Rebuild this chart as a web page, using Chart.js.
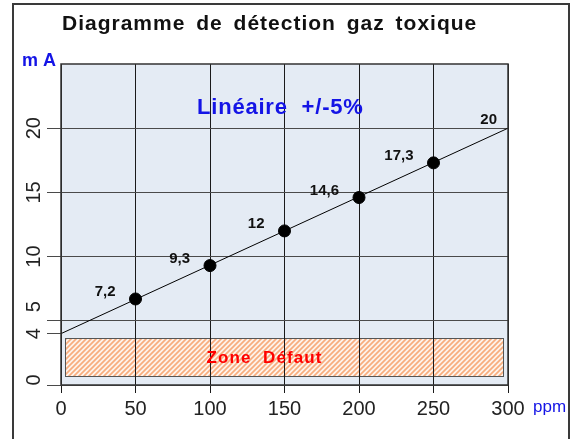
<!DOCTYPE html>
<html><head><meta charset="utf-8">
<script src="https://cdn.jsdelivr.net/npm/chart.js@4"></script>
<style>
html,body{margin:0;padding:0;background:#fff;}
#wrap{position:relative;width:573px;height:439px;overflow:hidden;}
#frame{position:absolute;left:12px;top:3px;width:558px;height:460px;border:2px solid #3a3a3a;box-sizing:border-box;}
canvas{position:absolute;left:0;top:0;}
</style></head><body>
<div id="wrap"><div id="frame"></div><canvas id="c" width="573" height="439"></canvas></div>
<script>
// ---- data ----
const ppmValues   = [50, 100, 150, 200, 250];
const mAValues    = [6.7, 9.3, 12, 14.6, 17.3];
const pointLabels = ['7,2', '9,3', '12', '14,6', '17,3'];
const lineX       = [0, 300];
const lineY       = [4, 20];
const lineLabels  = ['', '20'];
const xTickValues = [0, 50, 100, 150, 200, 250, 300];
const yTickValues = [0, 4, 5, 10, 15, 20];
const zoneX       = [3, 297];
const zoneY       = [0.7, 3.65];
const titleText   = 'Diagramme de détection gaz toxique';
const noteText    = 'Linéaire  +/-5%';
const zoneText    = 'Zone  Défaut';
const yUnit       = 'm A';
const xUnit       = 'ppm';

const FONT = '"Liberation Sans", Arial, sans-serif';
const BLUE = '#1414e6';

function hatchPattern(ctx){
  const c = document.createElement('canvas');
  c.width = 5; c.height = 5;
  const g = c.getContext('2d');
  g.fillStyle = '#fdf3ec'; g.fillRect(0,0,5,5);
  g.strokeStyle = '#f7ad7e'; g.lineWidth = 1.7;
  g.beginPath();
  g.moveTo(-1,6); g.lineTo(6,-1);
  g.moveTo(-1,1); g.lineTo(1,-1);
  g.moveTo(4,6); g.lineTo(6,4);
  g.stroke();
  return ctx.createPattern(c,'repeat');
}

const decor = {
  id:'decor',
  beforeDraw(chart){
    const {ctx, chartArea:a, scales:{x,y}} = chart;
    ctx.save();
    ctx.fillStyle = '#e4ebf4';
    ctx.fillRect(a.left, a.top, a.right-a.left, a.bottom-a.top);
    // zone défaut
    const zx0 = x.getPixelForValue(zoneX[0]), zx1 = x.getPixelForValue(zoneX[1]);
    const zy0 = y.getPixelForValue(zoneY[1]), zy1 = y.getPixelForValue(zoneY[0]);
    ctx.fillStyle = hatchPattern(ctx);
    ctx.fillRect(zx0, zy0, zx1-zx0, zy1-zy0);
    ctx.strokeStyle = '#555'; ctx.lineWidth = 1;
    ctx.strokeRect(Math.round(zx0)+0.5, Math.round(zy0)+0.5, Math.round(zx1-zx0), Math.round(zy1-zy0));
    ctx.restore();
  },
  afterDatasetsDraw(chart){
    const {ctx, chartArea:a, scales:{x,y}} = chart;
    ctx.save();
    // plot frame
    ctx.strokeStyle = '#333'; ctx.lineWidth = 1.5;
    ctx.strokeRect(a.left, a.top, a.right-a.left, a.bottom-a.top);
    // zone text
    ctx.fillStyle = '#ff0000';
    ctx.font = 'bold 17px ' + FONT;
    ctx.letterSpacing = '1.1px';
    ctx.textAlign = 'center'; ctx.textBaseline = 'middle';
    ctx.fillText(zoneText, (x.getPixelForValue(zoneX[0])+x.getPixelForValue(zoneX[1]))/2 - 20, y.getPixelForValue((zoneY[0]+zoneY[1])/2)+1);
    // point labels
    ctx.fillStyle = '#111';
    ctx.font = 'bold 15px ' + FONT;
    ctx.letterSpacing = '0px';
    ctx.textAlign = 'right';
    chart.getDatasetMeta(1).data.forEach((el,i)=>{
      ctx.fillText(pointLabels[i], el.x - 20, el.y - 7);
    });
    chart.getDatasetMeta(0).data.forEach((el,i)=>{
      if (lineLabels[i]) ctx.fillText(lineLabels[i], el.x - 11, el.y - 8);
    });
    // y tick labels (rotated)
    ctx.fillStyle = '#222';
    ctx.font = '20px ' + FONT;
    ctx.textAlign = 'center';
    const shift = {0:-5, 5:-14};
    yTickValues.forEach(v=>{
      const py = y.getPixelForValue(v) + (shift[v]||0);
      ctx.save();
      ctx.translate(33, py);
      ctx.rotate(-Math.PI/2);
      ctx.fillText(String(v), 0, 1);
      ctx.restore();
    });
    // title
    ctx.fillStyle = '#111';
    ctx.textAlign = 'left'; ctx.textBaseline = 'alphabetic';
    ctx.font = 'bold 21px ' + FONT;
    ctx.letterSpacing = '1px';
    ctx.wordSpacing = '4px';
    ctx.fillText(titleText, 62, 30);
    // note
    ctx.fillStyle = BLUE;
    ctx.font = 'bold 22px ' + FONT;
    ctx.letterSpacing = '0.8px';
    ctx.wordSpacing = '0px';
    ctx.fillText(noteText, 197, 114);
    // units
    ctx.font = 'bold 18px ' + FONT;
    ctx.letterSpacing = '0px';
    ctx.fillText(yUnit, 22, 66);
    ctx.font = '17px ' + FONT;
    ctx.textBaseline = 'middle';
    ctx.fillText(xUnit, 533, 407);
    ctx.restore();
  }
};

new Chart(document.getElementById('c'), {
  data: {
    datasets: [
      { type:'line', data: lineX.map((v,i)=>({x:v, y:lineY[i]})),
        borderColor:'#000', borderWidth:1, pointRadius:0, fill:false, order:2 },
      { type:'scatter', data: ppmValues.map((v,i)=>({x:v, y:mAValues[i]})),
        backgroundColor:'#000', borderColor:'#000', pointRadius:6, pointHoverRadius:6, order:1 }
    ]
  },
  options: {
    responsive:false, animation:false, events:[],
    layout:{padding:{left:0, top:64, right:65, bottom:0}},
    plugins:{legend:{display:false}, tooltip:{enabled:false}, title:{display:false}},
    scales:{
      x:{ type:'linear', min:0, max:300,
        afterBuildTicks: s => { s.ticks = xTickValues.map(v=>({value:v})); },
        afterFit: s => { s.height = 54; },
        grid:{ color:'#1a1a1a', lineWidth:1, tickLength:8, drawTicks:true },
        border:{display:false},
        ticks:{ font:{family:FONT, size:20}, color:'#222', padding:4, maxRotation:0, autoSkip:false }
      },
      y:{ type:'linear', min:0, max:25,
        afterBuildTicks: s => { s.ticks = yTickValues.map(v=>({value:v})); },
        afterFit: s => { s.width = 61; },
        grid:{ color: c => (c.tick && c.tick.value === 4) ? 'rgba(0,0,0,0)' : '#4a4a4a',
               tickColor:'#4a4a4a', lineWidth:1, tickLength:14, drawTicks:true },
        border:{display:false},
        ticks:{ display:false, autoSkip:false }
      }
    }
  },
  plugins:[decor]
});
</script>
</body></html>
